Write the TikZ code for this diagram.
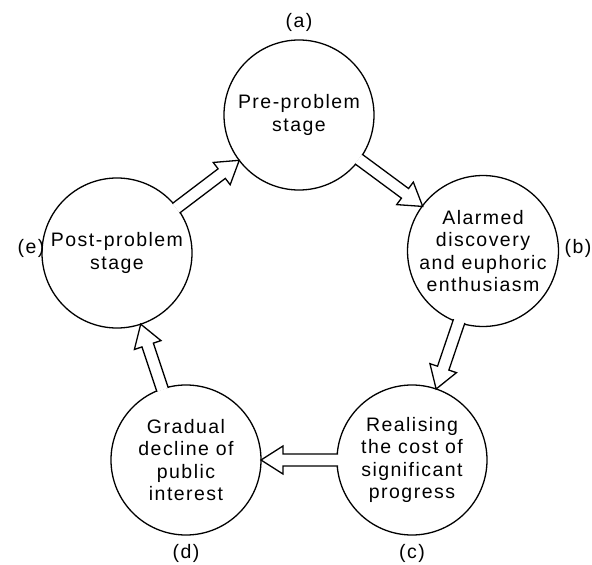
\documentclass[tikz,border=0pt]{standalone}
\usepackage{fontspec}
\setmainfont{Liberation Sans}[LetterSpace=7.5]
\usetikzlibrary{calc}
\newcommand\hollowarrow[2]{%
  \path ($(#1.center)!74pt!(#2.center)$) coordinate (tl)
        ($(#2.center)!75pt!(#1.center)$) coordinate (tp);
  \path ($(tp)!22pt!(tl)$) coordinate (hb);
  \draw[fill=white, line join=miter]
    ($(tl)!6pt!90:(tp)$) -- ($(hb)!6pt!-90:(tl)$) -- ($(hb)!14pt!-90:(tl)$)
    -- (tp) -- ($(hb)!14pt!90:(tl)$) -- ($(hb)!6pt!90:(tl)$) -- ($(tl)!6pt!-90:(tp)$);
}
\begin{document}
\begin{tikzpicture}[x=1pt,y=-1pt,line width=1.3pt,
  stagenode/.style={circle,draw,minimum size=150pt,inner sep=0pt,align=center,
    font=\fontsize{19.5}{22.5}\selectfont},
  lbl/.style={inner sep=0pt,font=\fontsize{19.5}{22.5}\selectfont}]
\useasboundingbox (0,0) rectangle (592,565);
\node[stagenode] (a) at (299,115) {Pre-problem\\stage};
\node[stagenode] (b) at (483,251) {Alarmed\\discovery\\and euphoric\\enthusiasm};
\node[stagenode] (c) at (412,460) {Realising\\the cost of\\significant\\progress};
\node[stagenode] (d) at (186,460) {Gradual\\decline of\\public\\interest};
\node[stagenode] (e) at (117,253) {Post-problem\\stage};
\node[lbl] (la) at (299,22) {(a)};
\node[lbl] (lb) at (578,248) {(b)};
\node[lbl] (lc) at (412,553) {(c)};
\node[lbl] (ld) at (186,553) {(d)};
\node[lbl] (le) at (31,248) {(e)};
\hollowarrow{a}{b}
\hollowarrow{b}{c}
\hollowarrow{c}{d}
\hollowarrow{d}{e}
\hollowarrow{e}{a}
\end{tikzpicture}
\end{document}
